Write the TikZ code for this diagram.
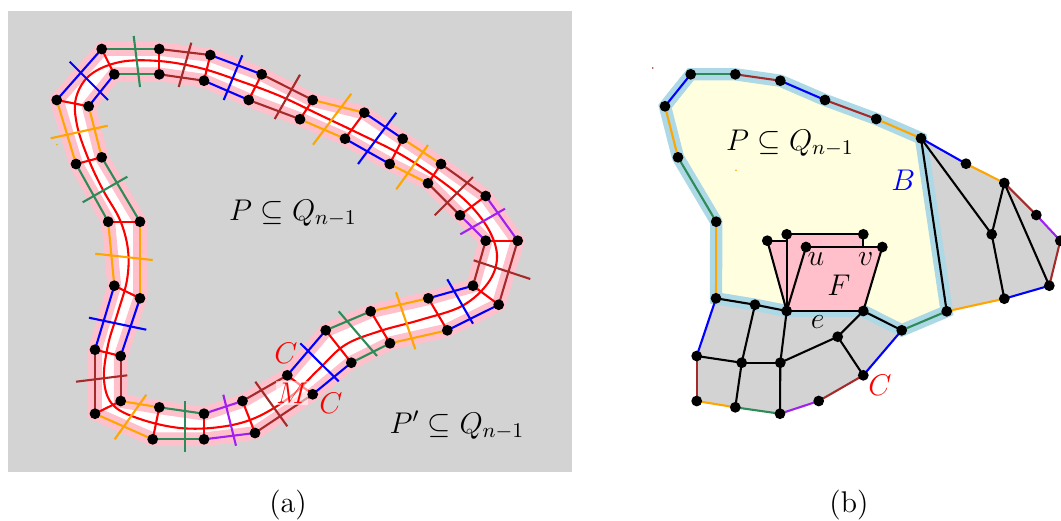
\RequirePackage{fix-cm}
\documentclass[tikz,border=0pt]{standalone}
\usepackage{amssymb}
\definecolor{bgray}{HTML}{D3D3D3}
\definecolor{bpink}{HTML}{FFC0CB}
\definecolor{ebrown}{HTML}{A52A2A}
\definecolor{egreen}{HTML}{2E8B57}
\definecolor{eblue}{HTML}{0000FF}
\definecolor{eorange}{HTML}{FFA500}
\definecolor{epurple}{HTML}{A020F0}
\definecolor{band}{HTML}{ADD8E6}
\definecolor{lyellow}{HTML}{FFFFE0}
\tikzset{
  dotnode/.style={circle,fill=black,inner sep=0pt,minimum size=4.9pt},
  edgeline/.style={line width=0.95pt},
  blackline/.style={line width=0.95pt,black},
  pinkband/.style={line width=6.2pt,bpink},
  blueband/.style={line width=5.6pt,band,fill=lyellow},
  txt/.style={inner sep=0pt,text=black,font=\fontsize{13.6}{16}\selectfont},
  redtxt/.style={inner sep=0pt,text=red,font=\fontsize{13.6}{16}\selectfont},
}
\begin{document}
\begin{tikzpicture}[x=0.4545pt,y=-0.4545pt]
\useasboundingbox (0,0) rectangle (1061,520);
\fill[bgray] (8,11) rectangle (572,472);
% outer and inner rings
\foreach \i/\x/\y in {1/101.7/49,2/159.3/49,3/210.3/55,4/261.7/74.3,5/312.7/100,6/364.3/112.7,7/402.7/138.7,8/441/164,9/485.7/196,10/517.7/240.7,11/498.7/304.7,12/447.3/330.3,13/390/343.3,14/351.3/362.7,15/312.7/394.3,16/255/433,17/204/439.3,18/152.7/439.3,19/95/413.7,20/95/349.7,21/114.3/285.7,22/108.2/221.7,23/76/164,24/56.7/100}
  \coordinate (o\i) at (\x,\y);
\foreach \i/\x/\y in {1/114.3/74.3,2/159.3/74.3,3/204/80.7,4/248.7/100,5/300/119.2,6/345/138.7,7/389.7/164,8/428/183.3,9/460/215.3,10/485.7/240.7,11/473/285.7,12/428.3/298.3,13/370.7/311.3,14/325.7/330.3,15/287.3/375.3,16/242.5/401,17/204/413.7,18/159.3/407.3,19/120.7/401,20/120.7/356,21/140/298.3,22/140/221.7,23/101.7/157.3,24/88.7/106.3}
  \coordinate (i\i) at (\x,\y);
\fill[white,even odd rule] (o1)--(o2)--(o3)--(o4)--(o5)--(o6)--(o7)--(o8)--(o9)--(o10)--(o11)--(o12)--(o13)--(o14)--(o15)--(o16)--(o17)--(o18)--(o19)--(o20)--(o21)--(o22)--(o23)--(o24)--cycle
  (i1)--(i2)--(i3)--(i4)--(i5)--(i6)--(i7)--(i8)--(i9)--(i10)--(i11)--(i12)--(i13)--(i14)--(i15)--(i16)--(i17)--(i18)--(i19)--(i20)--(i21)--(i22)--(i23)--(i24)--cycle;
\draw[pinkband] (o1)--(o2)--(o3)--(o4)--(o5)--(o6)--(o7)--(o8)--(o9)--(o10)--(o11)--(o12)--(o13)--(o14)--(o15)--(o16)--(o17)--(o18)--(o19)--(o20)--(o21)--(o22)--(o23)--(o24)--cycle;
\draw[pinkband] (i1)--(i2)--(i3)--(i4)--(i5)--(i6)--(i7)--(i8)--(i9)--(i10)--(i11)--(i12)--(i13)--(i14)--(i15)--(i16)--(i17)--(i18)--(i19)--(i20)--(i21)--(i22)--(i23)--(i24)--cycle;
% red middle curve
\draw[red,edgeline] plot[smooth cycle,tension=0.6] coordinates {(159,61) (200,68) (240,81) (280,96) (320,115) (360,134) (400,154) (440,180) (470,205) (490,232) (497,258) (488,283) (462,306) (420,320) (380,331) (345,345) (318,370) (290,397) (255,418) (220,427) (180,428) (140,419) (113,405) (104,380) (108,345) (118,312) (127,280) (128,250) (120,220) (103,190) (88,158) (77,125) (76,98) (90,75) (120,62)};
% rungs
\foreach \i in {1,...,24} \draw[red,edgeline] (o\i)--(i\i);
% ring edges
\foreach \i/\j/\c in {1/2/egreen,2/3/ebrown,3/4/eblue,4/5/ebrown,5/6/eorange,6/7/eblue,7/8/eorange,8/9/ebrown,9/10/epurple,10/11/ebrown,11/12/eblue,12/13/eorange,13/14/egreen,14/15/eblue,15/16/ebrown,16/17/epurple,17/18/egreen,18/19/eorange,19/20/ebrown,20/21/eblue,21/22/eorange,22/23/egreen,23/24/eorange,24/1/eblue}{
  \draw[edgeline,\c] (o\i)--(o\j);
  \draw[edgeline,\c] (i\i)--(i\j);
}
% crossing ticks
\foreach \n/\c/\ax/\ay/\bx/\by in {1/egreen/133.7/36/140/87,2/ebrown/191.3/42.7/178.7/87,3/eblue/242.3/55.3/223.7/100,4/ebrown/300/74.7/274.7/119,5/eorange/351.3/93.7/313/144.7,6/eblue/396.3/112.7/358/164,7/eorange/428/145/396.3/189.3,8/ebrown/473/177/434.7/215.3,9/epurple/505/208.7/460.3/234.3,10/ebrown/473.7/260.3/530.3/279,11/eblue/447.3/279.3/473/323.7,12/eorange/396/292.3/415.3/349.3,13/egreen/338.7/311.3/377/356,14/eblue/300.3/343.3/338.7/381.3,15/ebrown/255.3/381.7/287.3/426.3,16/epurple/223.3/394.7/236/445.7,17/egreen/185/401/185/452,18/eorange/146.3/394.7/114.7/439.3,19/ebrown/127.3/375.3/76/381.7,20/eblue/146.3/329.7/89/317.7,21/eorange/152.7/260/95.3/253.7,22/egreen/127.3/176.7/82.7/202.3,23/eorange/107.7/125.7/50.7/138.3,24/eblue/69.7/61.7/108/100}{
  \coordinate (ta\n) at (\ax,\ay);
  \coordinate (tb\n) at (\bx,\by);
  \draw[edgeline,\c] (ta\n)--(tb\n);
}
\node[redtxt,fill=white,fill opacity=0.55,text opacity=1,inner xsep=0pt,inner ysep=1pt] (labM) at (292,393) {$M$};
\foreach \i in {1,...,24}{
  \node[dotnode] (dotO\i) at (o\i) {};
  \node[dotnode] (dotI\i) at (i\i) {};
}
\fill[eorange] (57,144.7) circle (0.4pt);
\node[txt] (labP) at (293,213) {$P\subseteq Q_{n-1}$};
\node[txt] (labPp) at (457,425) {$P'\subseteq Q_{n-1}$};
\node[redtxt] (labC1) at (286,353) {$C$};
\node[redtxt] (labC2) at (331,403) {$C$};
\node[txt] (laba) at (288,505) {(a)};
% ---------- right part
\foreach \n/\x/\y in {a1/690.7/74.3,a2/735.3/74.3,a3/780.3/80.7,a4/825/100,a5/876.3/119,a6/921/138.3,a0/665/106.3,am/678/157.3,an/716.2/221.7,p1/716/298.3,p2/755/304.7,p3/786.7/311,p4/863.3/311,p5/901.7/330.3,p6/946.7/311.3,l1/696.7/356,l2/696.7/401,l3/735.3/407.3,l4/780/413.7,l5/818.7/401,l6/863.3/375.3,m1/741.7/362.7,m2/780.3/362.7,m3/837.7/336.7,r1/966/163.7,r2/1004.3/183,r3/1036.3/215,r4/1060.3/240.7,r5/1049.3/285.7,r6/1004.3/298.7,r7/991.7/234.3,t1/767.3/240.7,t2/786.7/234.3,t3/863.3/234.3,t4/806/247,t5/882.3/247}
  \coordinate (\n) at (\x,\y);
\coordinate (t1x) at (786.7,240.7);
\coordinate (t3x) at (863.3,247);
\fill[bgray] (p1)--(p2)--(p3)--(p4)--(p5)--(l6)--(l5)--(l4)--(l3)--(l2)--(l1)--cycle;
\fill[bgray] (a6)--(r1)--(r2)--(r3)--(r4)--(r5)--(r6)--(p6)--cycle;
\draw[blueband] (a6)--(p6)--(p5)--(p4)--(p3)--(p2)--(p1)--(an)--(am)--(a0)--(a1)--(a2)--(a3)--(a4)--(a5)--cycle;
\fill[bpink] (t1)--(t1x)--(t2)--(t3)--(t3x)--(t5)--(p4)--(p3)--cycle;
\foreach \a/\b/\c in {a0/a1/eblue,a1/a2/egreen,a2/a3/ebrown,a3/a4/eblue,a4/a5/ebrown,a5/a6/eorange,am/a0/eorange,an/am/egreen,p1/an/eorange,p5/p6/egreen,p1/l1/eblue,l1/l2/ebrown,l2/l3/eorange,l3/l4/egreen,l4/l5/epurple,l5/l6/ebrown,l6/p5/eblue,a6/r1/eblue,r1/r2/eorange,r2/r3/ebrown,r3/r4/epurple,r4/r5/ebrown,r5/r6/eblue,r6/p6/eorange}
  \draw[edgeline,\c] (\a)--(\b);
\foreach \a/\b in {p1/p2,p2/p3,p3/p4,p4/p5,p6/a6,p2/m1,m1/l1,m1/m2,m1/l3,m2/p3,m2/l4,m2/m3,m3/p4,m3/l6,a6/r7,r7/r2,r7/r6,r2/r5,t1/t1x,t2/t3,t3/t3x,t4/t5,t5/p4,t4/p3,t1/p3,t2/p3}
  \draw[blackline] (\a)--(\b);
\foreach \n in {a1,a2,a3,a4,a5,a6,a0,am,an,p1,p2,p3,p4,p5,p6,l1,l2,l3,l4,l5,l6,m1,m2,m3,r1,r2,r3,r4,r5,r6,r7,t1,t2,t3,t4,t5}
  \node[dotnode] (dot\n) at (\n) {};
\fill[ebrown] (652.7,68) circle (0.4pt);
\fill[eorange] (736,170.3) circle (0.4pt);
\node[txt] (labP2) at (790,143) {$P\subseteq Q_{n-1}$};
\node[inner sep=0pt,text=eblue,font=\fontsize{13.6}{16}\selectfont] (labB) at (903.3,180.7) {$B$};
\node[txt] (labu) at (816,259) {$u$};
\node[txt] (labv) at (865.7,259) {$v$};
\node[txt] (labF) at (839,285) {$F$};
\node[txt] (labe) at (817.7,322) {$e$};
\node[redtxt] (labC3) at (880,385.7) {$C$};
\node[txt] (labb) at (849,505) {(b)};
\end{tikzpicture}
\end{document}
